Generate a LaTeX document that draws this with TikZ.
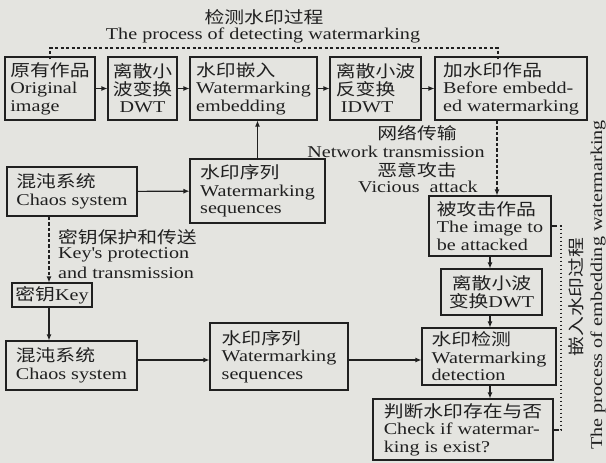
\documentclass[tikz,border=0pt]{standalone}
\usepackage{fontspec}
\setmainfont{Liberation Serif}[FakeStretch=1.22]
\newfontfamily\cjk{Noto Sans CJK SC}[FakeStretch=1.2]
\usetikzlibrary{arrows.meta,calc}
\definecolor{ink}{RGB}{32,32,32}
\definecolor{paper}{RGB}{228,228,224}
\newcommand{\zh}[1]{{\cjk #1}}
\begin{document}
\begin{tikzpicture}[x=1pt,y=-1pt,
  txt/.style={font=\fontsize{16.5}{17.5}\selectfont, text=ink},
  box/.style={txt, draw=ink, line width=1.1pt, inner sep=2pt, align=left},
  lbl/.style={txt, inner sep=0pt},
  arr/.style={draw=ink, line width=1.1pt, -{Latex[length=6pt,width=5pt]}},
  dasharr/.style={arr, dash pattern=on 3.5pt off 2pt},
  dotline/.style={draw=ink, line width=1.2pt, dash pattern=on 1.6pt off 2.4pt},
  dashline/.style={draw=ink, line width=1.1pt, dash pattern=on 3pt off 2.5pt},
  tickline/.style={draw=ink, line width=1.1pt}]
\fill[paper] (0,0) rectangle (606,463);
\useasboundingbox (0,0) rectangle (606,463);

% top row
\node[box, minimum width=90pt, minimum height=63pt] (b1) at (50,88.5) {\zh{原有作品}\\Original\\image};
\node[box, align=center, minimum width=69pt, minimum height=63pt] (b2) at (142.5,88.5) {\zh{离散小}\\\zh{波变换}\\DWT};
\node[box, minimum width=127pt, minimum height=63pt] (b3) at (253.5,88.5) {\zh{水印嵌入}\\Watermarking\\embedding};
\node[box, minimum width=91pt, minimum height=63pt] (b4) at (375.5,88.5) {\zh{离散小波}\\\zh{反变换}\\\ IDWT};
\node[box, minimum width=152pt, minimum height=63pt] (b5) at (511,88.5) {\zh{加水印作品}\\Before embedd-\\ed watermarking};

% middle
\node[box, minimum width=130pt, minimum height=49pt] (chaos1) at (72,191.5) {\zh{混沌系统}\\Chaos system};
\node[box, minimum width=135pt, minimum height=64pt] (seq1) at (257.5,191) {\zh{水印序列}\\Watermarking\\ sequences};
\node[box, minimum width=80pt, minimum height=24pt] (key) at (52,295) {\zh{密钥}Key};
\node[box, minimum width=131pt, minimum height=49pt] (chaos2) at (71.5,365.5) {\zh{混沌系统}\\Chaos system};
\node[box, minimum width=138pt, minimum height=67pt] (seq2) at (279,356.5) {\zh{水印序列}\\Watermarking\\ sequences};

% right column
\node[box, minimum width=122pt, minimum height=60pt] (att) at (490,226) {\zh{被攻击作品}\\The image to\\be attacked};
\node[box, align=center, minimum width=101pt, minimum height=46pt] (dwt2) at (491.5,292) {\zh{离散小波}\\\zh{变换}DWT};
\node[box, minimum width=134pt, minimum height=57pt] (det) at (489,356.5) {\zh{水印检测}\\Watermarking\\ detection};
\node[box, minimum width=180pt, minimum height=61pt] (chk) at (463,429.5) {\zh{判断水印存在与否}\\Check if watermar-\\king is exist?};

% labels
\node[lbl] (t1) at (264,17) {\zh{检测水印过程}};
\node[lbl] (t2) at (263,35) {The process of detecting watermarking};
\node[lbl] (n1) at (417,133) {\zh{网络传输}};
\node[lbl] (n2) at (396,152) {Network transmission};
\node[lbl] (n3) at (417,170) {\zh{恶意攻击}};
\node[lbl] (n4) at (418,187) {Vicious\ \ attack};
\node[lbl, anchor=west] (k1) at (58,237) {\zh{密钥保护和传送}};
\node[lbl, anchor=west] (k2) at (58,255) {Key\textquotesingle s protection};
\node[lbl, anchor=west] (k3) at (58,273) {and transmission};
\node[lbl, rotate=90] (r1) at (576,297) {\zh{嵌入水印过程}};
\node[lbl, rotate=90] (r2) at (598,285) {The process of embedding watermarking};

% coordinates
\coordinate (ya) at (0,360);
\coordinate (xk) at (49,0);
\coordinate (xn) at (497,0);
\coordinate (tl) at (50,48);
\coordinate (tr) at (498,48);
\coordinate (rt) at (561,226);
\coordinate (rb) at (561,430);

% arrows
\draw[arr] (b1) -- (b2);
\draw[arr] (b2) -- (b3);
\draw[arr] (b3) -- (b4);
\draw[arr] (b4) -- (b5);
\draw[arr] (seq1.north) -- (seq1.north |- b3.south);
\draw[arr] (chaos1) -- (seq1);
\draw[dasharr] (chaos1.south -| xk) -- (key.north -| xk);
\draw[arr] (key.south -| xk) -- (chaos2.north -| xk);
\draw[arr] (chaos2.east |- ya) -- (seq2.west |- ya);
\draw[arr] (seq2.east |- ya) -- (det.west |- ya);
\draw[dasharr] (b5.south -| xn) -- (att.north -| xn);
\draw[arr] (att.south) -- (att.south |- dwt2.north);
\draw[arr] (dwt2.south -| att.south) -- (det.north -| att.south);
\draw[arr] (det.south -| att.south) -- (chk.north -| att.south);

% process bounds
\draw[tickline] (b1.north -| tl) -- ([yshift=-3pt]b1.north -| tl);
\draw[dashline] ([yshift=-3pt]b1.north -| tl) -- (tl) -- (tr) -- ([yshift=-3pt]b5.north -| tr);
\draw[tickline] ([yshift=-3pt]b5.north -| tr) -- (b5.north -| tr);
\draw[tickline] (att.east) -- ([xshift=4pt]att.east);
\draw[dotline] ([xshift=4pt]att.east) -- (rt) -- (rb) -- ([xshift=4pt]chk.east |- rb);
\draw[tickline] ([xshift=4pt]chk.east |- rb) -- (chk.east |- rb);
\end{tikzpicture}
\end{document}
